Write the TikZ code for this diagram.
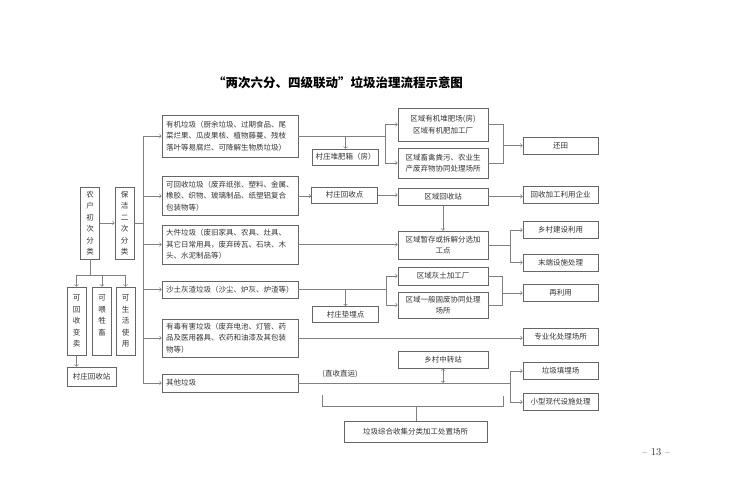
\documentclass[tikz,border=0pt]{standalone}
\usepackage{fontspec}
\usepackage{xcolor}
\usepackage{tikz}
\newfontfamily\cjk{Noto Sans CJK SC}
\newcommand{\boxfont}{\cjk\fontsize{7.5}{11.5}\selectfont}
\definecolor{linegray}{gray}{0.5}
\definecolor{boxgray}{gray}{0.4}
\definecolor{textgray}{gray}{0.2}
\tikzstyle{conn} = [draw=linegray, line width=0.7pt]
\tikzstyle{box} = [draw=boxgray, line width=0.7pt, rectangle, inner sep=2pt,
text=textgray, font=\boxfont]
\tikzstyle{catbox} = [box, text width=128pt, inner xsep=4pt, align=left]
\tikzstyle{regbox} = [box, minimum width=90pt, align=center]
\tikzstyle{endbox} = [box, minimum width=75pt, minimum height=17pt]
\tikzstyle{vilbox} = [box, minimum width=66pt, minimum height=16pt]
\tikzstyle{vbox} = [box, minimum width=19pt, inner xsep=0pt, align=center]

\begin{document}
\begin{tikzpicture}[x=1pt,y=-1pt]
    \useasboundingbox (0,0) rectangle (740,504);
    \node[text=black, font=\cjk\bfseries\fontsize{12.5}{14}\selectfont] (title) at (338,83)
        {“两次六分、四级联动”垃圾治理流程示意图};

    % households and cleaners
    \node[vbox, minimum height=72pt] (farm) at (90,223) {农\\户\\初\\次\\分\\类};
    \node[vbox, minimum height=72pt] (clean) at (124.5,223) {保\\洁\\二\\次\\分\\类};
    \node[vbox, minimum height=68pt] (sell) at (76.5,321) {可\\回\\收\\变\\卖};
    \node[vbox, minimum height=68pt] (feed) at (102,321) {可\\喂\\牲\\畜\\~};
    \node[vbox, minimum height=68pt] (reuse) at (125.5,321) {可\\生\\活\\使\\用};
    \node[box, minimum width=49pt, minimum height=19pt] (station) at (91.5,376.5) {村庄回收站};

    % six kinds of waste
    \node[catbox, minimum height=42pt] (organic) at (230,136)
        {有机垃圾（厨余垃圾、过期食品、尾\\菜烂果、瓜皮果核、植物藤蔓、残枝\\落叶等易腐烂、可降解生物质垃圾）};
    \node[catbox, minimum height=39pt] (recyc) at (230,196)
        {可回收垃圾（废弃纸张、塑料、金属、\\橡胶、织物、玻璃制品、纸塑铝复合\\包装物等）};
    \node[catbox, minimum height=39pt] (bulky) at (230,244.5)
        {大件垃圾（废旧家具、农具、灶具、\\其它日常用具，废弃砖瓦、石块、木\\头、水泥制品等）};
    \node[catbox, minimum height=17pt] (sand) at (230,289.5) {沙土灰渣垃圾（沙尘、炉灰、炉渣等）};
    \node[catbox, minimum height=38pt] (toxic) at (230,338)
        {有毒有害垃圾（废弃电池、灯管、药\\品及医用器具、农药和油漆及其包装\\物等）};
    \node[catbox, minimum height=18pt] (other) at (230,383) {其他垃圾};

    % village level
    \node[vilbox] (compost) at (345.5,157) {村庄堆肥箱（房）};
    \node[vilbox] (collect) at (344.5,195) {村庄回收点};
    \node[vilbox] (fillpt) at (345.5,314.5) {村庄垫埋点};

    % region level
    \node[regbox, minimum height=33pt] (regorg) at (443,124.5) {区域有机堆肥场(房)\\区域有机肥加工厂};
    \node[regbox, minimum height=30pt] (regmanure) at (443,163) {区域畜禽粪污、农业生\\产废弃物协同处理场所};
    \node[regbox, minimum height=17pt] (regrecyc) at (443,196.5) {区域回收站};
    \node[regbox, minimum height=28pt] (regstore) at (443,245) {区域暂存或拆解分选加\\工点};
    \node[regbox, minimum height=18pt] (regsoil) at (443,276) {区域灰土加工厂};
    \node[regbox, minimum height=26pt] (regsolid) at (443,305) {区域一般固废协同处理\\场所};
    \node[regbox, minimum height=17pt] (transfer) at (443,359.5) {乡村中转站};
    \node[box, minimum width=143pt, minimum height=21pt] (hub) at (415.5,431.5) {垃圾综合收集分类加工处置场所};

    % end use
    \node[endbox] (field) at (560.5,145.5) {还田};
    \node[endbox] (firm) at (560.5,194.5) {回收加工利用企业};
    \node[endbox] (rural) at (560.5,230) {乡村建设利用};
    \node[endbox] (terminal) at (560.5,262.5) {末端设施处理};
    \node[endbox] (again) at (560.5,293) {再利用};
    \node[endbox] (special) at (560.5,337) {专业化处理场所};
    \node[endbox] (dump) at (560.5,371) {垃圾填埋场};
    \node[endbox] (small) at (560.5,402) {小型现代设施处理};

    \node[text=textgray, font=\boxfont] (direct) at (340,374) {(直收直运)};
    \node[text=textgray, font=\fontsize{10.5}{12}\selectfont] (page) at (656,452) {-- 13 --};

    % left part
    \coordinate (split) at (90,275);
    \coordinate (trunk) at (143,0);
    \draw[conn,->] (farm.east) -- (clean.west);
    \draw[conn] (farm.south) -- (farm.south |- split);
    \draw[conn] (sell.north |- split) -- (reuse.north |- split);
    \foreach \n in {sell,feed,reuse}
        \draw[conn,->] (\n.north |- split) -- (\n.north);
    \draw[conn,->] (sell.south) -- (sell.south |- station.north);
    \draw[conn] (clean.east) -- (trunk |- clean.east);
    \draw[conn] (trunk |- organic.west) -- (trunk |- other.west);
    \foreach \n in {organic,recyc,bulky,sand,toxic,other}
        \draw[conn,->] (trunk |- \n.west) -- (\n.west);

    % organic
    \coordinate (orgfork) at (385,0);
    \coordinate (fieldjoin) at (503,0);
    \draw[conn] (organic.east) -- (orgfork |- organic.east);
    \draw[conn] (orgfork |- regorg.west) -- (orgfork |- regmanure.west);
    \draw[conn,->] (orgfork |- regorg.west) -- (regorg.west);
    \draw[conn,->] (orgfork |- regmanure.west) -- (regmanure.west);
    \draw[conn,->] (compost.north |- organic.east) -- (compost.north);
    \draw[conn] (regorg.east) -- (fieldjoin |- regorg.east) -- (fieldjoin |- regmanure.east) -- (regmanure.east);
    \draw[conn,->] (fieldjoin |- field.west) -- (field.west);

    % recyclable and bulky
    \draw[conn,->] (recyc.east) -- (recyc.east -| collect.west);
    \draw[conn,->] (collect.east) -- (collect.east -| regrecyc.west);
    \draw[conn,->] (regrecyc.east) -- (regrecyc.east -| firm.west);
    \draw[conn,->] (regrecyc.south) -- (regstore.north);
    \draw[conn,->] (bulky.east) -- (bulky.east -| regstore.west);
    \coordinate (storefork) at (510,0);
    \draw[conn] (regstore.east) -- (storefork |- regstore.east);
    \draw[conn] (storefork |- rural.west) -- (storefork |- terminal.west);
    \draw[conn,->] (storefork |- rural.west) -- (rural.west);
    \draw[conn,->] (storefork |- terminal.west) -- (terminal.west);

    % sand and ash
    \coordinate (sandfork) at (386,0);
    \coordinate (againjoin) at (502,0);
    \draw[conn] (sand.east) -- (sandfork |- sand.east);
    \draw[conn] (sandfork |- regsoil.west) -- (sandfork |- regsolid.west);
    \draw[conn,->] (sandfork |- regsoil.west) -- (regsoil.west);
    \draw[conn,->] (sandfork |- regsolid.west) -- (regsolid.west);
    \draw[conn,->] (fillpt.north |- sand.east) -- (fillpt.north);
    \draw[conn] (regsoil.east) -- (againjoin |- regsoil.east) -- (againjoin |- regsolid.east) -- (regsolid.east);
    \draw[conn,->] (againjoin |- again.west) -- (again.west);

    % toxic and other
    \draw[conn,->] (toxic.east) -- (toxic.east -| special.west);
    \coordinate (otherfork) at (510,0);
    \draw[conn] (other.east) -- (otherfork |- other.east);
    \draw[conn] (otherfork |- dump.west) -- (otherfork |- small.west);
    \draw[conn,->] (otherfork |- dump.west) -- (dump.west);
    \draw[conn,->] (otherfork |- small.west) -- (small.west);
    \draw[conn,<->] (transfer.south) -- (transfer.south |- other.east);

    % bracket to hub
    \coordinate (brl) at (322,395);
    \coordinate (brr) at (503,396);
    \coordinate (brbase) at (416,406);
    \draw[conn] (brl) -- (brl |- brbase) -- (brr |- brbase) -- (brr);
    \draw[conn] (brbase) -- (brbase |- hub.north);
\end{tikzpicture}
\end{document}
